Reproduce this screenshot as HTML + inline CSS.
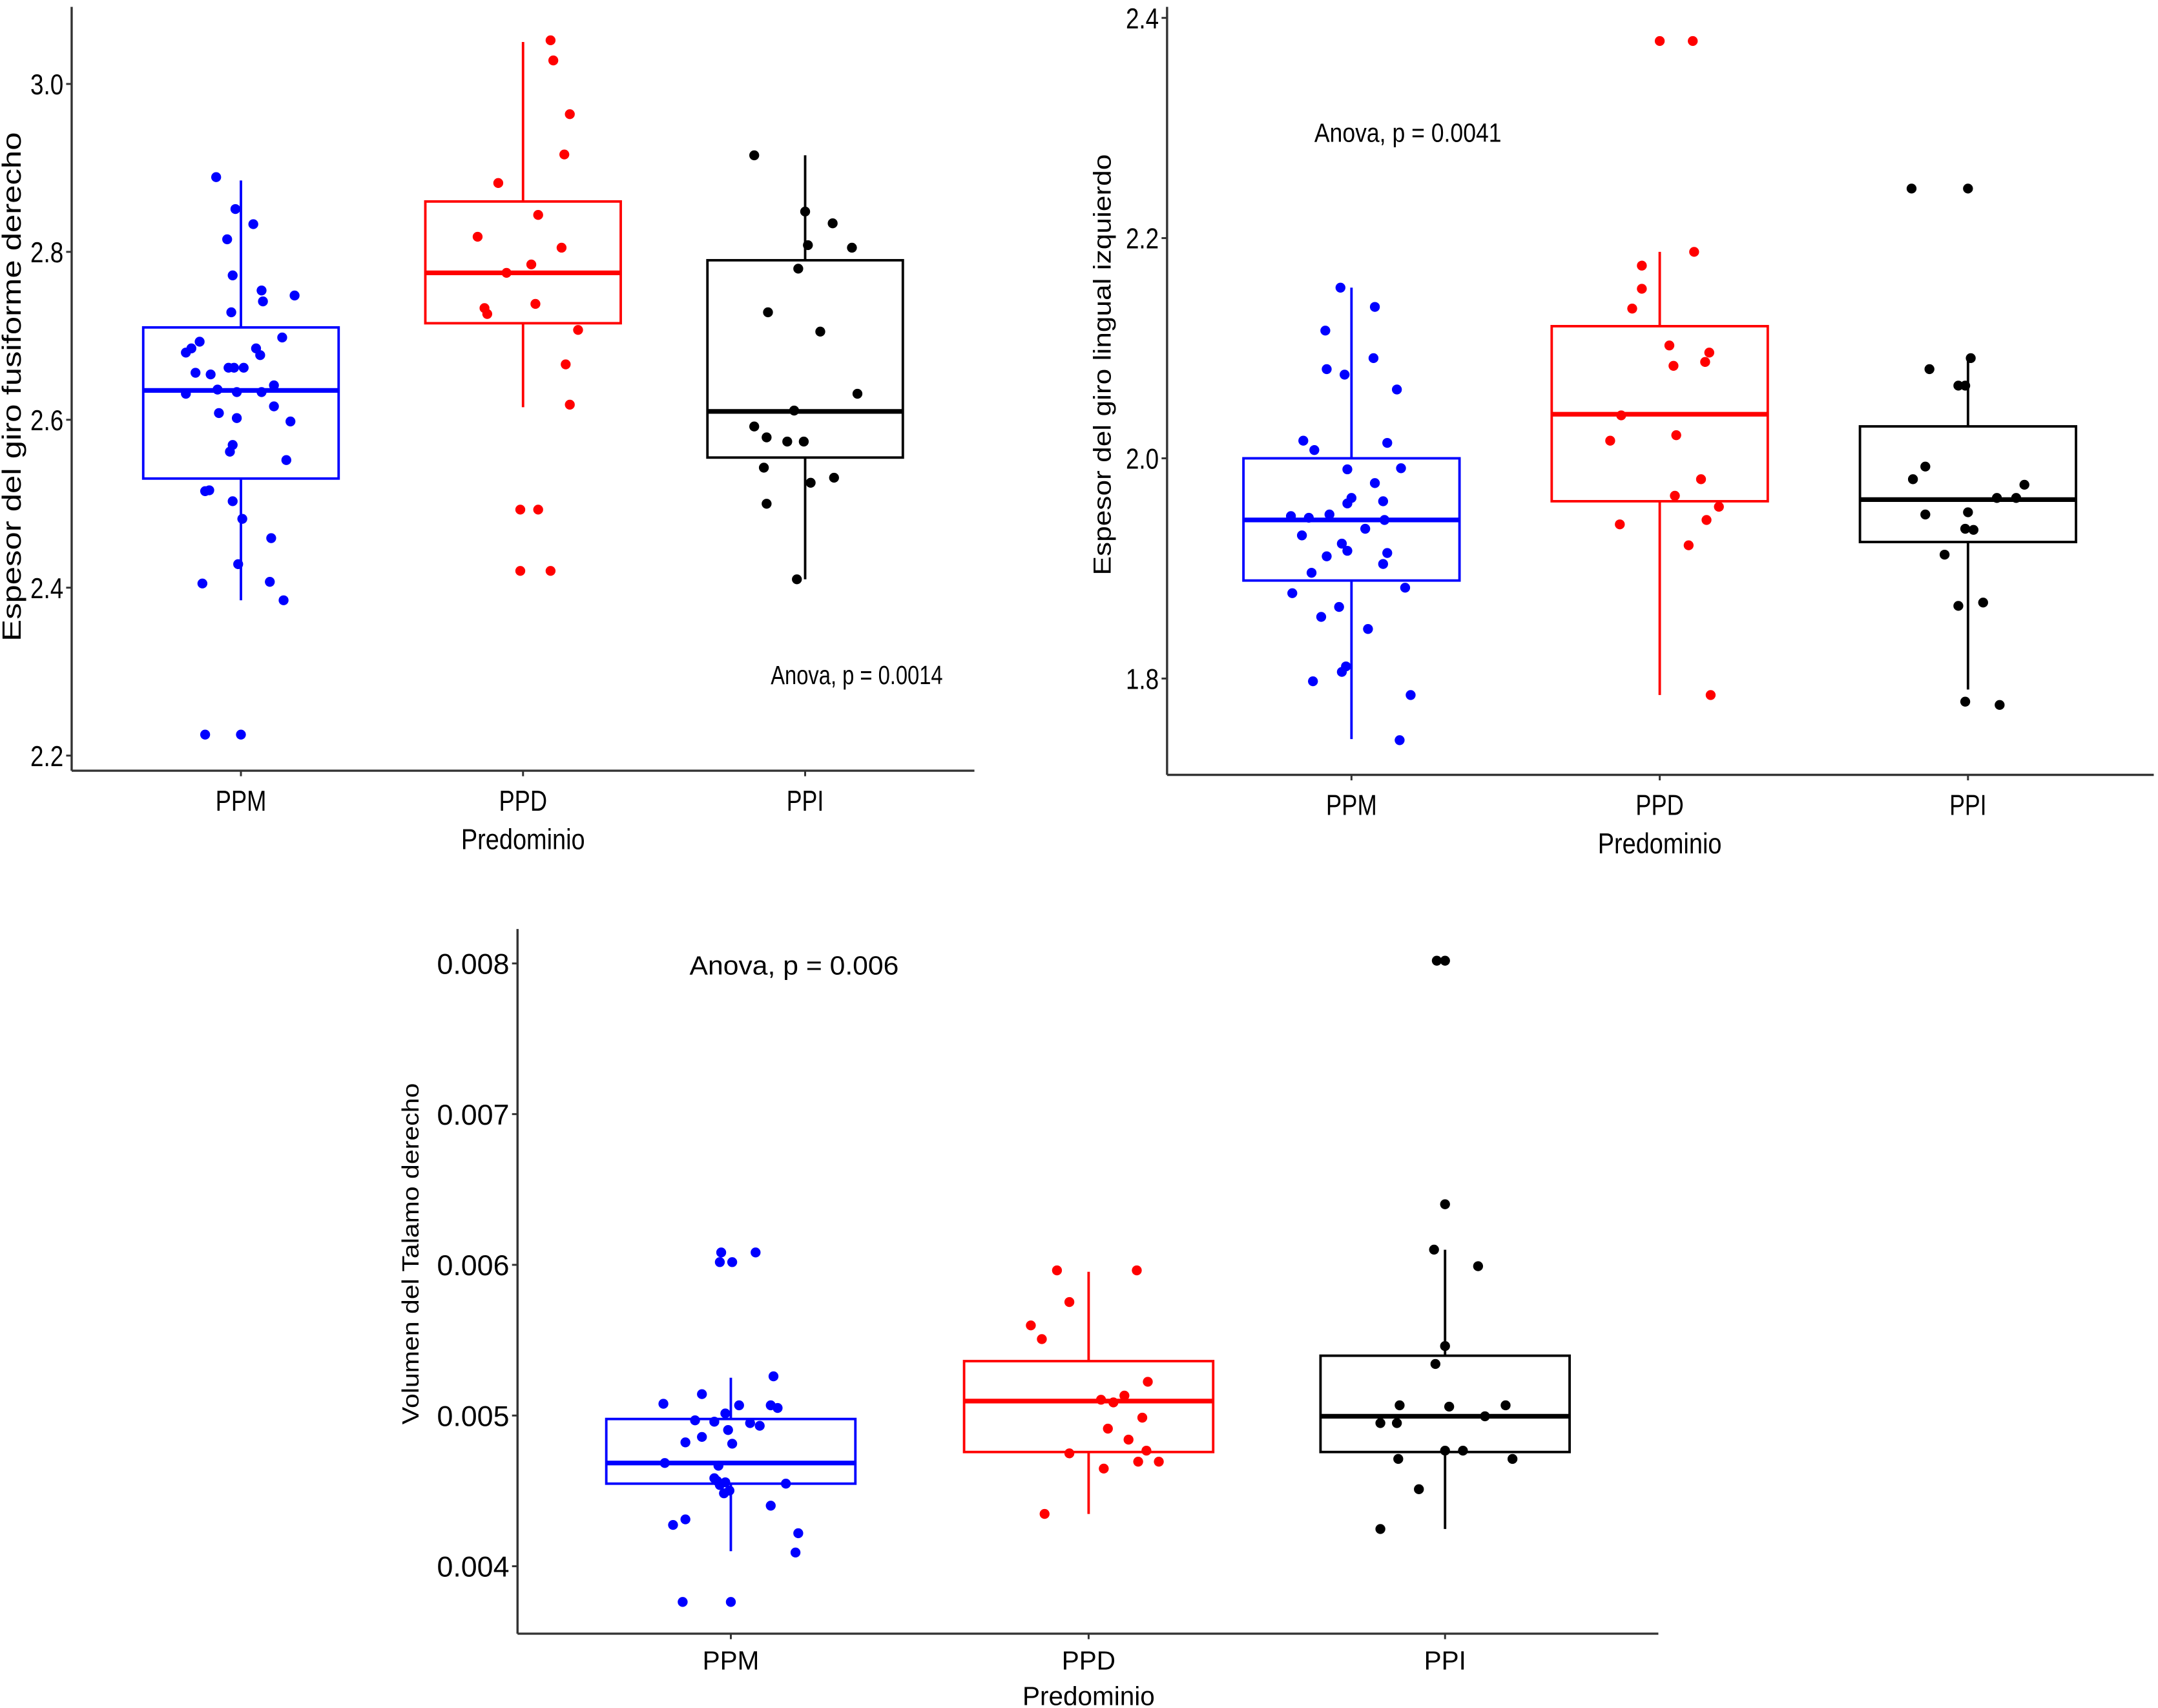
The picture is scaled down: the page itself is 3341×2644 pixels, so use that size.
<!DOCTYPE html>
<html><head><meta charset="utf-8">
<style>
html,body{margin:0;padding:0;background:#fff;}
svg{display:block;}
text{font-family:"Liberation Sans",sans-serif;fill:#000;}
</style></head>
<body>
<svg id="chart" xmlns="http://www.w3.org/2000/svg" width="3341" height="2644" viewBox="0 0 1568 1241"></svg>
<script>
// ---------- data ----------
const categories = ["PPM","PPD","PPI"];
const colors = ["#0000ff","#ff0000","#000000"];

// Plot 1: Espesor del giro fusiforme derecho
const p1Ticks = [2.2,2.4,2.6,2.8,3.0];
const p1TickLabels = ["2.2","2.4","2.6","2.8","3.0"];
const p1Boxes = [ // [low whisker, q1, median, q3, high whisker]
  [2.385,2.53,2.635,2.71,2.885],
  [2.615,2.715,2.775,2.86,3.05],
  [2.41,2.555,2.61,2.79,2.915]
];
const p1PPM = [2.889,2.851,2.833,2.815,2.772,2.754,2.748,2.741,2.728,2.693,2.685,2.698,2.685,2.677,2.680,2.656,2.662,2.662,2.654,2.662,2.641,2.631,2.636,2.633,2.633,2.616,2.608,2.602,2.598,2.570,2.562,2.552,2.516,2.515,2.503,2.482,2.459,2.428,2.405,2.407,2.385,2.225,2.225];
const p1PPMjit = [-18,-4,9,-10,-6,15,39,16,-7,-30,-36,30,11,14,-40,-33,-9,2,-22,-5,24,-40,-17,-3,15,24,-16,-3,36,-6,-8,33,-23,-26,-6,1,22,-2,-28,21,31,-26,0];
const p1PPD = [3.052,3.028,2.964,2.916,2.882,2.844,2.818,2.805,2.785,2.775,2.733,2.726,2.738,2.707,2.666,2.618,2.493,2.493,2.420,2.420];
const p1PPDjit = [20,22,34,30,-18,11,-33,28,6,-12,-28,-26,9,40,31,34,-2,11,-2,20];
const p1PPI = [2.915,2.848,2.834,2.808,2.805,2.780,2.728,2.705,2.631,2.611,2.592,2.579,2.574,2.574,2.543,2.525,2.531,2.500,2.410];
const p1PPIjit = [-37,0,20,2,34,-5,-27,11,38,-8,-37,-28,-13,-1,-30,4,21,-28,-6];

// Plot 2: Espesor del giro lingual izquierdo
const p2Ticks = [1.8,2.0,2.2,2.4];
const p2TickLabels = ["1.8","2.0","2.2","2.4"];
const p2Boxes = [
  [1.745,1.889,1.944,2.0,2.155],
  [1.785,1.961,2.04,2.12,2.1875],
  [1.79,1.924,1.9625,2.029,2.091]
];
const p2PPM = [2.155,2.1375,2.116,2.076,2.091,2.081,2.0625,2.016,2.0075,2.014,1.99,1.991,1.9775,1.9475,1.946,1.949,1.959,1.964,1.961,1.944,1.936,1.93,1.9225,1.916,1.911,1.914,1.904,1.896,1.8825,1.8775,1.865,1.856,1.845,1.811,1.806,1.7975,1.785,1.744];
const p2PPMjit = [-8,17,-19,-5,16,-18,33,-35,-27,26,-3,36,17,-44,-31,-16,-3,0,23,24,10,-36,-7,-3,-18,26,23,-29,39,-43,-9,-22,12,-4,-7,-28,43,35];
const p2PPD = [2.379,2.379,2.175,2.1875,2.154,2.136,2.096,2.1025,2.0875,2.084,2.039,2.016,2.021,1.981,1.966,1.956,1.944,1.94,1.921,1.785];
const p2PPDjit = [0,24,-13,25,-13,-20,36,7,33,10,-28,-36,12,30,11,43,34,-29,21,37];
const p2PPI = [2.245,2.245,2.091,2.081,2.066,2.066,1.9925,1.981,1.976,1.964,1.964,1.949,1.951,1.936,1.935,1.9125,1.869,1.866,1.779,1.776];
const p2PPIjit = [-41,0,2,-28,-7,-2,-31,-40,41,21,35,-31,0,-2,4,-17,11,-7,-2,23];

// Plot 3: Volumen del Talamo derecho
const p3Ticks = [0.004,0.005,0.006,0.007,0.008];
const p3TickLabels = ["0.004","0.005","0.006","0.007","0.008"];
const p3Boxes = [
  [0.0041,0.004548,0.004685,0.004977,0.005251],
  [0.004347,0.004758,0.005096,0.005361,0.005954],
  [0.004247,0.004758,0.004995,0.005397,0.0061]
];
const p3PPM = [0.006082,0.006082,0.006018,0.006018,0.00526,0.005142,0.005078,0.005068,0.005068,0.00505,0.005014,0.004968,0.004959,0.00495,0.004932,0.004904,0.004858,0.004822,0.004813,0.004685,0.004667,0.004584,0.004566,0.004557,0.004539,0.004502,0.004548,0.004484,0.004402,0.004311,0.004274,0.004219,0.004091,0.003763,0.003763];
const p3PPMjit = [-7,18,-8,1,31,-21,-49,6,29,34,-4,-26,-12,14,21,-2,-21,-33,1,-48,-9,-12,-10,-4,-8,-1,40,-5,29,-33,-42,49,47,-35,0];
const p3PPD = [0.005963,0.005963,0.005753,0.005598,0.005507,0.005224,0.005105,0.005132,0.005087,0.004986,0.004913,0.00484,0.004749,0.004767,0.004694,0.004694,0.004648,0.004347];
const p3PPDjit = [-23,35,-14,-42,-34,43,9,26,18,39,14,29,-14,42,36,51,11,-32];
const p3PPI = [0.008018,0.008018,0.006402,0.006101,0.005991,0.005461,0.005342,0.005068,0.005059,0.005068,0.004995,0.00495,0.00495,0.004767,0.004767,0.004712,0.004712,0.004511,0.004247];
const p3PPIjit = [-6,0,0,-8,24,0,-7,-33,3,44,29,-47,-35,0,13,-34,49,-19,-47];

// ---------- drawing ----------
const NS="http://www.w3.org/2000/svg";
const svg=document.getElementById("chart");
const catW=[37,35,27];
function mk(tag,attrs,parent){const e=document.createElementNS(NS,tag);for(const k in attrs)e.setAttribute(k,attrs[k]);(parent||svg).appendChild(e);return e;}
function fit(t,w){t.setAttribute("textLength",w);t.setAttribute("lengthAdjust","spacingAndGlyphs");}

function drawPlot(cfg){
  const g=mk("g",{});
  
  
  const yScale=v=>cfg.y0px+(v-cfg.y0v)*(cfg.y1px-cfg.y0px)/(cfg.y1v-cfg.y0v);
  const xScale=i=>cfg.cx[i];
  const ya=mk("line",{x1:cfg.axX,y1:cfg.axTop,x2:cfg.axX,y2:cfg.axY,stroke:"#333","stroke-width":1.6},g);
  
  
  const xa=mk("line",{x1:cfg.axX,y1:cfg.axY,x2:cfg.axRight,y2:cfg.axY,stroke:"#333","stroke-width":1.6},g);
  
  
  cfg.ticks.forEach((t,i)=>{
    const y=yScale(t);
    mk("line",{x1:cfg.axX-4,y1:y,x2:cfg.axX,y2:y,stroke:"#333","stroke-width":1.4},g);
    const tx=mk("text",{x:cfg.axX-6,y:y+cfg.tickFs*0.36,"text-anchor":"end","font-size":cfg.tickFs},g);
    if(cfg.narrow)fit(tx,cfg.tickW);
    tx.textContent=cfg.tickLabels[i];
    
    
  });
  categories.forEach((c,i)=>{
    const x=xScale(i);
    mk("line",{x1:x,y1:cfg.axY,x2:x,y2:cfg.axY+4,stroke:"#333","stroke-width":1.4},g);
    const tx=mk("text",{x:x,y:cfg.xlabY,"text-anchor":"middle","font-size":cfg.catFs},g);
    if(cfg.narrow)fit(tx,catW[i]);
    tx.textContent=c;
    
    
  });
  const xt=mk("text",{x:cfg.cx[1],y:cfg.xtitleY,"text-anchor":"middle","font-size":cfg.catFs},g);
  if(cfg.narrow)fit(xt,90);
  xt.textContent="Predominio";
  
  
  const yt=mk("text",{x:0,y:0,"text-anchor":"middle","font-size":cfg.ytFs,transform:`translate(${cfg.ytX},${cfg.ytY}) rotate(-90)`},g);
  fit(yt,cfg.ytW);
  yt.textContent=cfg.ytitle;
  
  
  const an=mk("text",{x:cfg.anX,y:cfg.anY,"font-size":cfg.anFs},g);
  fit(an,cfg.anW);
  an.textContent=cfg.anova;
  
  
  cfg.boxes.forEach((b,i)=>{
    const x=xScale(i),w=cfg.bw,col=colors[i];
    const bg=mk("g",{},g);
    
    
    mk("line",{x1:x,y1:yScale(b[0]),x2:x,y2:yScale(b[1]),stroke:col,"stroke-width":1.8},bg);
    mk("line",{x1:x,y1:yScale(b[3]),x2:x,y2:yScale(b[4]),stroke:col,"stroke-width":1.8},bg);
    mk("rect",{x:x-w/2,y:yScale(b[3]),width:w,height:yScale(b[1])-yScale(b[3]),fill:"none",stroke:col,"stroke-width":1.8},bg);
    mk("line",{x1:x-w/2,y1:yScale(b[2]),x2:x+w/2,y2:yScale(b[2]),stroke:col,"stroke-width":3.4},bg);
  });
  cfg.pts.forEach((arr,i)=>{
    const jit=cfg.jit[i];
    arr.forEach((v,k)=>{
      const c=mk("circle",{cx:xScale(i)+jit[k],cy:yScale(v),r:3.6,fill:colors[i]},g);
      
      
    });
  });
}

drawPlot({name:"plot-fusiforme",narrow:true,
  y0v:2.2,y0px:549,y1v:3.0,y1px:61,ticks:p1Ticks,tickLabels:p1TickLabels,tickFs:21,tickW:24,
  axX:52,axTop:5,axY:560,axRight:708,cx:[175,380,585],bw:142,
  xlabY:589,catFs:21,xtitleY:617,
  ytitle:"Espesor del giro fusiforme derecho",ytFs:19,ytW:370,ytX:15,ytY:281,
  anova:"Anova, p = 0.0014",anX:560,anY:497,anFs:19,anW:125,
  boxes:p1Boxes,pts:[p1PPM,p1PPD,p1PPI],jit:[p1PPMjit,p1PPDjit,p1PPIjit]});

drawPlot({name:"plot-lingual",narrow:true,
  y0v:1.8,y0px:493,y1v:2.4,y1px:13,ticks:p2Ticks,tickLabels:p2TickLabels,tickFs:21,tickW:24,
  axX:848,axTop:5,axY:563,axRight:1565,cx:[982,1206,1430],bw:157,
  xlabY:592,catFs:21,xtitleY:620,
  ytitle:"Espesor del giro lingual izquierdo",ytFs:18,ytW:306,ytX:807,ytY:265,
  anova:"Anova, p = 0.0041",anX:955,anY:103,anFs:19,anW:136,
  boxes:p2Boxes,pts:[p2PPM,p2PPD,p2PPI],jit:[p2PPMjit,p2PPDjit,p2PPIjit]});

drawPlot({name:"plot-talamo",narrow:false,
  y0v:0.004,y0px:1138,y1v:0.008,y1px:700,ticks:p3Ticks,tickLabels:p3TickLabels,tickFs:21,tickW:0,
  axX:376,axTop:675,axY:1187,axRight:1205,cx:[531,791,1050],bw:181,
  xlabY:1213,catFs:19,xtitleY:1239,
  ytitle:"Volumen del Talamo derecho",ytFs:17,ytW:248,ytX:304,ytY:911,
  anova:"Anova, p = 0.006",anX:501,anY:708,anFs:19,anW:152,
  boxes:p3Boxes,pts:[p3PPM,p3PPD,p3PPI],jit:[p3PPMjit,p3PPDjit,p3PPIjit]});
</script>
</body></html>
